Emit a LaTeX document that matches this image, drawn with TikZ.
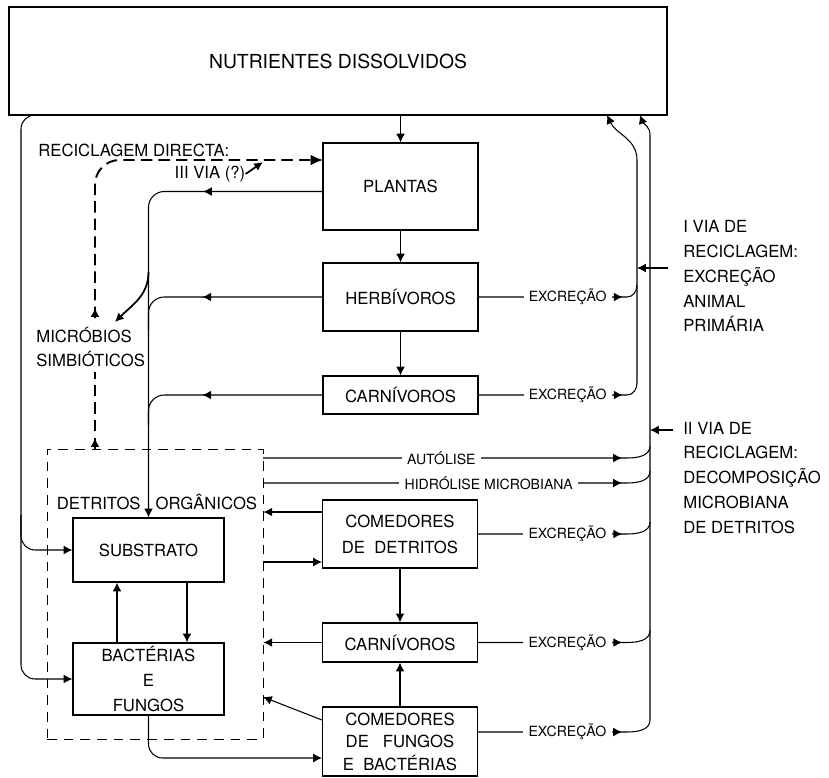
\documentclass[tikz,border=0pt]{standalone}
\usepackage{fontspec}
\setmainfont{TeX Gyre Heros}
\usetikzlibrary{arrows.meta, positioning, decorations.markings}

\begin{document}
\begin{tikzpicture}[x=0.02cm, y=0.02cm,
  box/.style={rectangle, draw, line width=0.7pt, minimum width=3.1cm, align=center,
              inner sep=0pt, font=\fontsize{9.5}{14.7}\selectfont},
  note/.style={align=left, inner sep=0pt, font=\fontsize{9.5}{14.2}\selectfont},
  lbl/.style={fill=white, inner xsep=3pt, inner ysep=1pt, font=\fontsize{8}{9}\selectfont},
  flow/.style={line width=0.6pt},
  arr/.style={line width=0.6pt, -{Latex[length=5pt,width=5pt]}},
  dsh/.style={line width=1.1pt, dash pattern=on 6.5pt off 3.5pt},
  dsharr/.style={dsh, -{Latex[length=7pt,width=6pt]}},
  midarr/.style={postaction={decorate}, decoration={markings,
                 mark=at position #1 with {\arrow{Latex[length=5pt,width=5pt]}}}}]

  \useasboundingbox (0,0) rectangle (829,-778);

  % ── Dissolved nutrients ──────────────────────────────────────────
  \node[box, minimum width=13.16cm, minimum height=2.16cm,
        font=\fontsize{11}{13}\selectfont] (nutr) at (338,-61) {NUTRIENTES DISSOLVIDOS};

  % ── Grazing chain ────────────────────────────────────────────────
  \node[box, minimum height=1.74cm] (plantas) at (400.5,-186.5) {PLANTAS};
  \node[box, minimum height=1.36cm] (herb) at (400.5,-297) {HERBÍVOROS};
  \node[box, minimum height=0.76cm] (carn1) at (400.5,-395) {CARNÍVOROS};

  % ── Detritus chain ───────────────────────────────────────────────
  \node[box, minimum height=1.36cm] (comdet) at (400,-534) {COMEDORES\\DE\ \ DETRITOS};
  \node[box, minimum height=0.78cm] (carn2) at (400,-642.5) {CARNÍVOROS};
  \node[box, minimum height=1.38cm, font=\fontsize{9.5}{12.8}\selectfont]
        (comfun) at (400,-741.5) {COMEDORES\\DE\ \ \ FUNGOS\\E\ \ BACTÉRIAS};

  % ── Detritus pool ────────────────────────────────────────────────
  \node[draw, line width=0.5pt, dash pattern=on 5.5pt off 4pt,
        minimum width=4.32cm, minimum height=5.8cm] (det) at (155,-594) {};
  \node[note] (dettxt) at (157,-502) {DETRITOS\hspace{0.3cm}ORGÂNICOS};
  \node[box, minimum width=3.02cm, minimum height=1.28cm] (subs) at (148.5,-550) {SUBSTRATO};
  \node[box, minimum width=3.02cm, minimum height=1.44cm, font=\fontsize{9.5}{14.2}\selectfont]
        (bact) at (148.5,-679) {BACTÉRIAS\\E\\FUNGOS};

  % ── Notes ────────────────────────────────────────────────────────
  \node[note, anchor=west] (micro) at (36,-347) {MICRÓBIOS\\SIMBIÓTICOS};
  \node[note, anchor=west] (recdir) at (38,-150) {RECICLAGEM DIRECTA:};
  \node[note] (iiivia) at (210,-174) {III VIA (?)};
  \node[note, anchor=west] (via1) at (683,-276)
        {I VIA DE\\RECICLAGEM:\\EXCREÇÃO\\ANIMAL\\PRIMÁRIA};
  \node[note, anchor=west] (via2) at (683,-478)
        {II VIA DE\\RECICLAGEM:\\DECOMPOSIÇÃO\\MICROBIANA\\DE DETRITOS};

  % ── Coordinates ──────────────────────────────────────────────────
  \coordinate (lt) at (35,-115);   \coordinate (lx) at (21,-300);
  \coordinate (lb) at (21,-515);
  \coordinate (pw) at (323,-191.5);
  \coordinate (hj) at (148.5,-330); \coordinate (cj) at (148.5,-425);
  \coordinate (mj) at (148.5,-272); \coordinate (mtip) at (115,-322);
  \coordinate (dd) at (95,-449);   \coordinate (mb) at (95,-372);
  \coordinate (mt) at (95,-318);   \coordinate (pd) at (323,-160);
  \coordinate (iiitip) at (263,-162);
  \coordinate (n1) at (607,-115);  \coordinate (n2) at (640,-115);
  \coordinate (v1t) at (637,-160); \coordinate (v2t) at (650,-135);
  \coordinate (v1a) at (668,-268); \coordinate (v2a) at (673,-430);
  \coordinate (e1) at (627,-297);  \coordinate (j1) at (637,-285);
  \coordinate (e2) at (627,-395);  \coordinate (j2) at (637,-383);
  \coordinate (a1) at (263,-458);  \coordinate (e3) at (627,-458);  \coordinate (j3) at (650,-446);
  \coordinate (h1) at (263,-483);  \coordinate (e4) at (627,-483);  \coordinate (j4) at (650,-471);
  \coordinate (e5) at (627,-534);  \coordinate (j5) at (650,-522);
  \coordinate (e6) at (627,-642.5); \coordinate (j6) at (650,-630.5);
  \coordinate (cx) at (478,-732);  \coordinate (e7) at (627,-732);  \coordinate (j7) at (650,-720);
  \coordinate (cd1) at (322,-512); \coordinate (cd2) at (322,-562);
  \coordinate (cf1) at (322,-720); \coordinate (dt1) at (263,-697);
  \coordinate (cf2) at (322,-758);
  \coordinate (sb1) at (187,-582); \coordinate (sb2) at (117,-643);

  % ── Main chains ──────────────────────────────────────────────────
  \draw[arr] (nutr.south -| plantas.north) -- (plantas.north);
  \draw[arr] (plantas) -- (herb);
  \draw[arr] (herb) -- (carn1);
  \draw[arr] (comdet) -- (carn2);
  \draw[arr] (comfun) -- (carn2);

  % ── Nutrients to detritus pool ───────────────────────────────────
  \draw[arr, rounded corners=8pt] (lt) -| (lx) |- (bact.west);
  \draw[arr, rounded corners=8pt] (lb) |- (subs.west);

  % ── Dead matter to substrate ─────────────────────────────────────
  \draw[arr, midarr=2.4cm, rounded corners=9pt] (pw) -| (subs.north);
  \draw[flow, midarr=2.4cm, rounded corners=9pt] (herb.west) -| (hj);
  \draw[flow, midarr=2.4cm, rounded corners=9pt] (carn1.west) -| (cj);
  \draw[arr, line width=1pt] (mj) to[out=-90, in=45] (mtip);

  % ── Direct recycling (dashed) ────────────────────────────────────
  \draw[dsh, midarr=0.22cm] (dd) -- (mb);
  \draw[dsharr, midarr=0.2cm, rounded corners=14pt] (mt) |- (pd);
  \draw[arr, line width=1pt] (iiivia.east) -- (iiitip);

  % ── Detritus exchanges ───────────────────────────────────────────
  \draw[arr] (cd1) -- (cd1 -| det.east);
  \draw[arr] (cd2 -| det.east) -- (cd2);
  \draw[arr] (carn2.west) -- (carn2.west -| det.east);
  \draw[arr] (cf1) -- (dt1);
  \draw[arr, rounded corners=8pt] (bact.south) |- (cf2);
  \draw[arr] (sb1) -- (sb1 |- bact.north);
  \draw[arr] (sb2) -- (sb2 |- subs.south);

  % ── I via: animal excretion ──────────────────────────────────────
  \draw[flow, midarr=2.88cm] (herb.east) -- node[lbl, pos=0.6] {EXCREÇÃO} (e1) to[out=0, in=-90] (j1);
  \draw[flow, midarr=2.88cm] (carn1.east) -- node[lbl, pos=0.6] {EXCREÇÃO} (e2) to[out=0, in=-90] (j2);
  \draw[arr] (j2) -- (v1t) to[out=90, in=-65] (n1);
  \draw[arr] (v1a) -- (v1a -| v1t);

  % ── II via: microbial decomposition ──────────────────────────────
  \draw[flow, midarr=7.18cm] (a1) -- node[lbl, pos=0.49] {AUTÓLISE} (e3) to[out=0, in=-90] (j3);
  \draw[flow, midarr=7.18cm] (h1) -- node[lbl, pos=0.62] {HIDRÓLISE MICROBIANA} (e4) to[out=0, in=-90] (j4);
  \draw[flow, midarr=2.88cm] (comdet.east) -- node[lbl, pos=0.6] {EXCREÇÃO} (e5) to[out=0, in=-90] (j5);
  \draw[flow, midarr=2.88cm] (carn2.east) -- node[lbl, pos=0.6] {EXCREÇÃO} (e6) to[out=0, in=-90] (j6);
  \draw[flow, midarr=2.88cm] (cx) -- node[lbl, pos=0.6] {EXCREÇÃO} (e7) to[out=0, in=-90] (j7);
  \draw[arr] (j7) -- (v2t) to[out=90, in=-70] (n2);
  \draw[arr] (v2a) -- (v2a -| v2t);

\end{tikzpicture}
\end{document}
